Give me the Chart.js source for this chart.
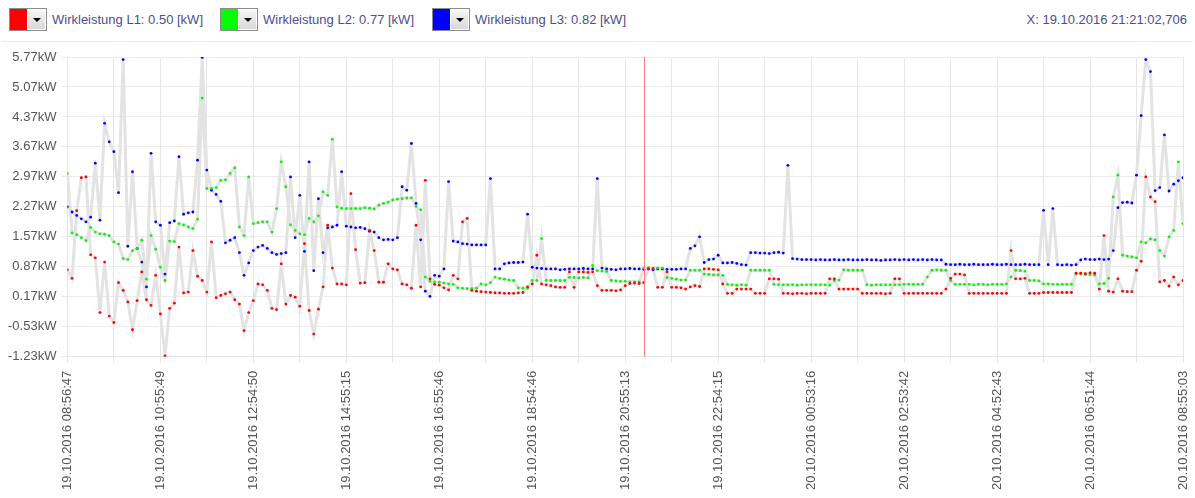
<!DOCTYPE html>
<html lang="de">

<head>
  <meta charset="UTF-8" />
  <title>Wirkleistung L1 - L3</title>
  <script src="https://cdn.jsdelivr.net/npm/chart.js"></script>
  <style>
    html,
    body {
      margin: 0;
      padding: 0;
      background-color: #fff;
      font-family: 'Liberation Sans', Arial, sans-serif;
    }

    #head {
      position: relative;
      height: 41px;
      margin: 0 2px;
      border-bottom: 1px solid #ececec;
    }

    .item {
      position: absolute;
      top: 8px;
      height: 23px;
      display: flex;
      align-items: center;
    }

    .pick {
      display: flex;
      width: 36px;
      height: 21px;
      border: 1px solid #8c8c8c;
    }

    .swatch {
      width: 17px;
      height: 21px;
    }

    .drop {
      position: relative;
      width: 17px;
      height: 19px;
      border: 1px solid #fff;
      background: linear-gradient(#f6f6f6, #d8d8d8);
    }

    .drop::after {
      content: '';
      position: absolute;
      left: 5px;
      top: 8px;
      border-left: 4px solid transparent;
      border-right: 4px solid transparent;
      border-top: 4px solid #000;
    }

    .label {
      margin-left: 5px;
      font-size: 13px;
      color: #4e4e8e;
    }

    #xinfo {
      position: absolute;
      right: 6px;
      top: 12px;
      font-size: 13px;
      color: #4e4e8e;
    }

    #wrap {
      position: relative;
      width: 1195px;
      height: 456px;
    }
  </style>
</head>

<body>
  <div id="head">
    <div class="item" style="left: 7px;">
      <div class="pick"><div class="swatch" style="background:#ff0000"></div><div class="drop"></div></div>
      <span class="label">Wirkleistung L1: 0.50 [kW]</span>
    </div>
    <div class="item" style="left: 218px;">
      <div class="pick"><div class="swatch" style="background:#00ff00"></div><div class="drop"></div></div>
      <span class="label">Wirkleistung L2: 0.77 [kW]</span>
    </div>
    <div class="item" style="left: 430px;">
      <div class="pick"><div class="swatch" style="background:#0000ff"></div><div class="drop"></div></div>
      <span class="label">Wirkleistung L3: 0.82 [kW]</span>
    </div>
    <div id="xinfo">X: 19.10.2016 21:21:02,706</div>
  </div>

  <div id="wrap">
    <canvas id="powerChart" width="1195" height="456"></canvas>
  </div>

  <script>
    // one sample every 6 minutes, x in hours since 19.10.2016 08:56:47
    const stepHours = 0.1;
    const cursorHours = 12.404; // 21:21:02

    const xTickLabels = [
      '19.10.2016 08:56:47', '19.10.2016 10:55:49', '19.10.2016 12:54:50', '19.10.2016 14:55:15',
      '19.10.2016 16:55:46', '19.10.2016 18:54:46', '19.10.2016 20:55:13', '19.10.2016 22:54:15',
      '20.10.2016 00:53:16', '20.10.2016 02:53:42', '20.10.2016 04:52:43', '20.10.2016 06:51:44',
      '20.10.2016 08:55:03'
    ];
    const yTicks = [-1.23, -0.53, 0.17, 0.87, 1.57, 2.27, 2.97, 3.67, 4.37, 5.07, 5.77];

    // Wirkleistung L1 (kW)
    const l1Values = [
      0.80, 0.60, 2.18, 2.95, 2.97, 1.15, 1.08, -0.20, 0.98, -0.28,
      -0.43, 0.50, 0.32, 0.05, -0.60, 0.08, 0.75, 0.10, -0.03, 0.67,
      -0.23, -1.21, -0.10, 0.02, 1.33, 0.26, 0.28, 1.25, 0.65, 0.55,
      0.28, 1.45, 0.15, 0.20, 0.24, 0.28, 0.10, 0.00, -0.62, -0.20,
      0.08, 0.47, 0.45, 0.32, -0.10, -0.13, 0.94, 0.00, 0.20, 0.16,
      -0.05, 1.41, -0.15, -0.70, -0.12, 0.40, 1.84, 0.84, 0.47, 0.47,
      0.45, 2.58, 1.27, 0.49, 0.50, 1.72, 1.25, 0.51, 0.51, 0.94,
      0.82, 0.80, 0.47, 0.45, 0.37, 1.84, 0.40, 2.89, 0.59, 0.46,
      0.44, 0.38, 0.33, 0.67, 0.59, 1.92, 2.00, 0.32, 0.30, 0.29,
      0.28, 0.27, 0.26, 0.26, 0.25, 0.25, 0.25, 0.26, 0.27, 0.40,
      0.47, 1.14, 0.47, 0.45, 0.43, 0.40, 0.39, 0.39, 0.75, 0.39,
      0.75, 0.75, 0.74, 0.75, 0.43, 0.32, 0.32, 0.32, 0.31, 0.33,
      0.43, 0.48, 0.49, 0.48, 0.50, 0.82, 0.82, 0.39, 0.39, 0.75,
      0.39, 0.39, 0.38, 0.35, 0.40, 0.43, 0.41, 0.82, 0.82, 0.81,
      0.80, 0.47, 0.25, 0.25, 0.35, 0.35, 0.35, 0.35, 0.25, 0.25,
      0.25, 0.59, 0.59, 0.58, 0.25, 0.25, 0.24, 0.25, 0.25, 0.24,
      0.25, 0.25, 0.25, 0.25, 0.59, 0.59, 0.35, 0.35, 0.35, 0.35,
      0.35, 0.25, 0.25, 0.25, 0.25, 0.25, 0.24, 0.25, 0.59, 0.59,
      0.25, 0.25, 0.25, 0.25, 0.25, 0.25, 0.25, 0.25, 0.25, 0.35,
      0.60, 0.70, 0.70, 0.68, 0.25, 0.25, 0.25, 0.25, 0.25, 0.25,
      0.25, 0.25, 0.25, 1.25, 0.59, 0.59, 0.60, 0.25, 0.25, 0.25,
      0.27, 0.27, 0.27, 0.27, 0.27, 0.27, 0.27, 0.72, 0.72, 0.71,
      0.73, 0.72, 0.35, 1.60, 0.30, 0.28, 0.59, 0.30, 0.29, 0.29,
      0.79, 1.00, 2.97, 2.50, 2.39, 0.52, 0.55, 0.42, 0.63, 0.45,
      0.55
    ];

    // Wirkleistung L2 (kW)
    const l2Values = [
      3.05, 1.66, 1.62, 1.55, 1.48, 1.79, 1.68, 1.64, 1.63, 1.60,
      1.45, 1.40, 1.06, 1.04, 1.25, 1.30, 1.49, 0.58, 1.60, 1.28,
      0.86, 0.55, 1.47, 1.46, 1.88, 1.85, 1.80, 1.76, 1.98, 4.81,
      2.70, 2.70, 2.72, 2.89, 2.90, 3.05, 3.18, 1.80, 1.60, 2.97,
      1.88, 1.90, 1.92, 1.92, 1.68, 2.23, 3.32, 2.74, 1.85, 1.72,
      1.64, 1.62, 2.00, 1.92, 2.06, 2.62, 2.54, 3.85, 2.27, 2.24,
      2.23, 2.23, 2.23, 2.23, 2.25, 2.24, 2.22, 2.31, 2.35, 2.38,
      2.43, 2.45, 2.46, 2.48, 2.48, 2.28, 2.20, 0.63, 0.53, 0.52,
      0.51, 0.49, 0.47, 0.46, 0.38, 0.37, 0.36, 0.36, 0.37, 0.47,
      0.45, 0.50, 0.63, 0.60, 0.58, 0.56, 0.55, 0.38, 0.37, 0.37,
      0.55, 0.55, 1.53, 0.55, 0.55, 0.55, 0.55, 0.55, 0.62, 0.62,
      0.61, 0.62, 0.61, 0.90, 0.78, 0.77, 0.76, 0.55, 0.54, 0.53,
      0.53, 0.52, 0.52, 0.52, 0.84, 0.85, 0.84, 0.84, 0.84, 0.62,
      0.60, 0.58, 0.56, 0.56, 0.79, 0.79, 0.79, 0.70, 0.69, 0.68,
      0.68, 0.67, 0.46, 0.45, 0.44, 0.45, 0.44, 0.79, 0.79, 0.79,
      0.79, 0.79, 0.46, 0.45, 0.45, 0.45, 0.45, 0.44, 0.45, 0.45,
      0.45, 0.45, 0.45, 0.45, 0.44, 0.55, 0.56, 0.80, 0.79, 0.79,
      0.79, 0.79, 0.45, 0.44, 0.45, 0.45, 0.45, 0.45, 0.45, 0.45,
      0.46, 0.46, 0.46, 0.46, 0.46, 0.63, 0.79, 0.80, 0.79, 0.79,
      0.55, 0.46, 0.46, 0.46, 0.46, 0.45, 0.46, 0.46, 0.45, 0.46,
      0.46, 0.46, 0.47, 0.63, 0.79, 0.78, 0.77, 0.55, 0.55, 0.54,
      0.47, 0.47, 0.46, 0.46, 0.46, 0.46, 0.46, 0.70, 0.70, 0.69,
      0.69, 0.68, 0.47, 0.48, 0.60, 2.50, 3.01, 1.14, 1.12, 1.10,
      1.08, 1.45, 1.43, 1.52, 1.50, 1.25, 1.12, 1.57, 1.72, 3.32,
      1.88
    ];

    // Wirkleistung L3 (kW)
    const l3Values = [
      2.27, 2.15, 2.07, 1.99, 1.92, 2.03, 3.29, 1.96, 4.22, 3.79,
      3.56, 2.60, 5.71, 1.35, 3.09, 1.30, 0.98, 0.40, 3.52, 1.92,
      1.84, 0.70, 1.90, 1.94, 3.44, 2.10, 2.13, 2.15, 3.36, 5.76,
      3.13, 2.66, 2.56, 2.40, 1.43, 1.49, 1.55, 1.20, 0.67, 0.96,
      1.25, 1.33, 1.37, 1.30, 1.20, 1.16, 1.18, 1.20, 2.97, 1.55,
      2.54, 1.23, 3.32, 0.78, 2.46, 1.20, 1.78, 1.80, 1.84, 3.09,
      1.82, 1.80, 1.78, 1.79, 1.76, 1.70, 1.68, 1.55, 1.50, 1.51,
      1.50, 1.55, 2.74, 2.66, 3.75, 2.35, 1.50, 0.30, 0.18, 0.67,
      0.65, 0.82, 2.86, 1.47, 1.45, 1.41, 1.40, 1.38, 1.38, 1.38,
      1.38, 2.93, 0.82, 0.82, 0.94, 0.96, 0.97, 0.97, 0.98, 2.10,
      0.86, 0.84, 0.83, 0.82, 0.82, 0.82, 0.80, 0.81, 0.82, 0.82,
      0.82, 0.83, 0.82, 0.82, 2.93, 0.84, 0.82, 0.81, 0.80, 0.82,
      0.82, 0.83, 0.82, 0.82, 0.81, 0.82, 0.80, 0.82, 0.82, 0.81,
      0.81, 0.81, 0.82, 0.82, 1.30, 1.36, 1.57, 0.97, 1.04, 1.05,
      1.14, 0.96, 0.96, 0.97, 0.95, 0.92, 0.91, 1.20, 1.20, 1.19,
      1.19, 1.18, 1.20, 1.21, 1.19, 3.24, 1.06, 1.05, 1.04, 1.04,
      1.04, 1.03, 1.04, 1.03, 1.03, 1.04, 1.03, 1.03, 1.04, 1.03,
      1.03, 1.03, 1.04, 1.03, 1.03, 1.02, 1.03, 1.03, 1.04, 1.03,
      1.04, 1.03, 1.04, 1.03, 1.04, 1.03, 1.04, 1.03, 1.03, 0.93,
      0.92, 0.92, 0.93, 0.92, 0.92, 0.93, 0.92, 0.92, 0.92, 0.93,
      0.92, 0.92, 0.93, 0.92, 0.92, 0.92, 0.93, 0.92, 0.92, 0.92,
      2.19, 0.92, 2.23, 0.92, 0.91, 0.92, 0.91, 0.92, 1.03, 1.05,
      1.04, 1.04, 1.05, 1.04, 1.05, 1.25, 2.25, 2.37, 2.38, 2.36,
      3.01, 4.40, 5.71, 5.43, 2.65, 2.72, 3.95, 2.64, 2.80, 2.88,
      2.95
    ];

    const fontFamily = "'Liberation Sans', Arial, sans-serif";

    function toPoints(values) {
      return values.map((v, i) => ({ x: i * stepHours, y: v }));
    }

    const series = [
      { values: l1Values, color: '#ff0000' },
      { values: l2Values, color: '#11ee11' },
      { values: l3Values, color: '#0000ff' }
    ];

    const datasets = [];
    // colored dots on top
    series.forEach(s => {
      datasets.push({
        data: toPoints(s.values),
        showLine: false,
        pointRadius: 1.4,
        pointBorderWidth: 0,
        pointBackgroundColor: s.color,
        order: 1
      });
    });
    // light grey connecting lines underneath
    series.forEach(s => {
      datasets.push({
        data: toPoints(s.values),
        borderColor: '#e3e3e3',
        borderWidth: 3,
        pointRadius: 0,
        tension: 0,
        order: 2
      });
    });

    const cursorLine = {
      id: 'cursorLine',
      afterDatasetsDraw(chart) {
        const { ctx, chartArea, scales } = chart;
        const px = Math.round(scales.x.getPixelForValue(cursorHours)) + 0.5;
        ctx.save();
        ctx.strokeStyle = '#ff7b7b';
        ctx.lineWidth = 1;
        ctx.beginPath();
        ctx.moveTo(px, chartArea.top);
        ctx.lineTo(px, chartArea.bottom);
        ctx.stroke();
        ctx.restore();
      }
    };

    const hourTicks = [];
    for (let h = 0; h <= 24; h++) hourTicks.push(h);

    const ctx = document.getElementById('powerChart').getContext('2d');
    const powerChart = new Chart(ctx, {
      type: 'line',
      data: { datasets: datasets },
      options: {
        responsive: false,
        animation: false,
        layout: {
          padding: { left: 3, right: 0, top: 15, bottom: 0 }
        },
        scales: {
          x: {
            type: 'linear',
            min: 0,
            max: 24,
            afterBuildTicks: scale => {
              scale.ticks = hourTicks.map(h => ({ value: h }));
            },
            // the last rotated label only needs a few pixels on the right
            afterFit: scale => {
              scale.paddingRight = 12;
            },
            ticks: {
              autoSkip: false,
              minRotation: 90,
              maxRotation: 90,
              padding: 8,
              color: '#555',
              font: { size: 13, family: fontFamily },
              callback: v => (v % 2 === 0 ? xTickLabels[v / 2] : '')
            },
            grid: { color: '#e6e6e6', tickLength: 6 },
            border: { color: '#e6e6e6' }
          },
          y: {
            type: 'linear',
            min: -1.23,
            max: 5.77,
            afterBuildTicks: scale => {
              scale.ticks = yTicks.map(v => ({ value: v }));
            },
            ticks: {
              padding: 5,
              color: '#555',
              font: { size: 13, family: fontFamily },
              callback: v => v.toFixed(2) + 'kW'
            },
            grid: { color: '#ebebeb', tickLength: 6 },
            border: { color: '#e6e6e6' }
          }
        },
        plugins: {
          legend: { display: false },
          tooltip: { enabled: false }
        }
      },
      plugins: [cursorLine]
    });
  </script>
</body>

</html>
